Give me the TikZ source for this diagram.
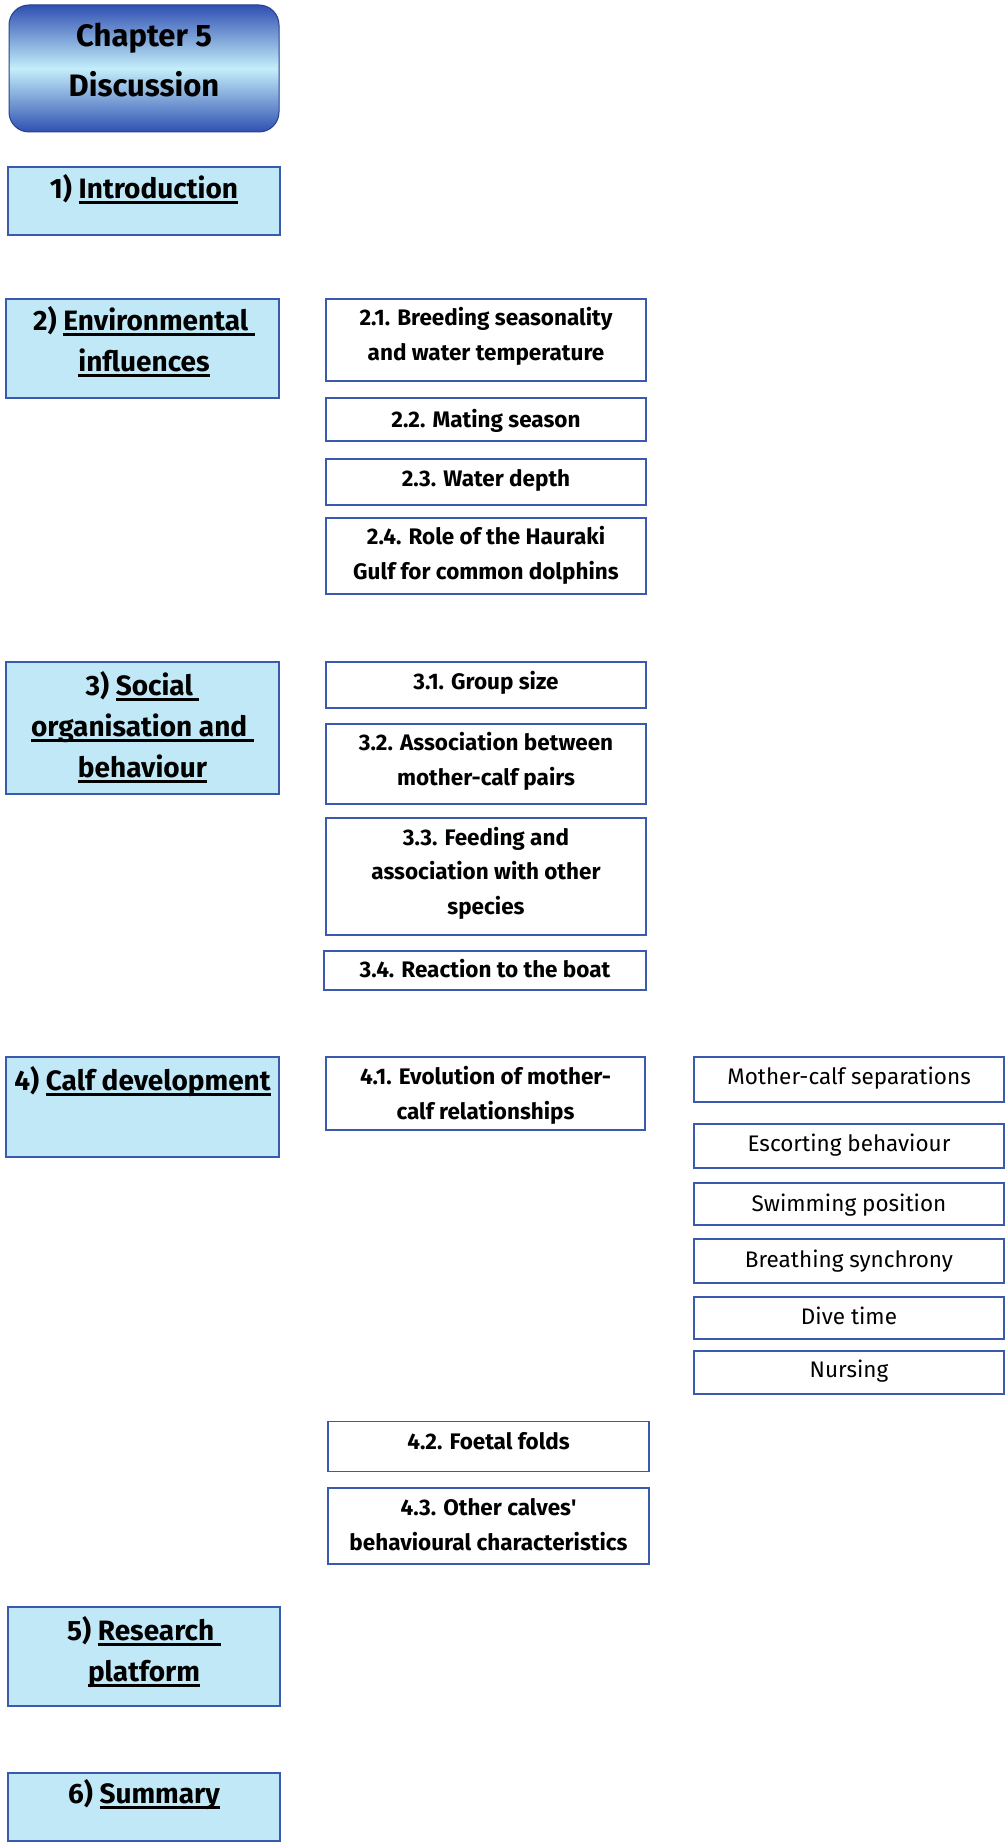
\documentclass[tikz,border=0pt]{standalone}
\usepackage{fontspec}
\setmainfont{Fira Sans}
\definecolor{secfill}{HTML}{C0E8F6}
\definecolor{bordc}{HTML}{3A5AAE}
\definecolor{chapdark}{HTML}{3050B2}
\definecolor{chaplight}{HTML}{C4EEFA}
\newcommand\hdul[1]{\setbox0\hbox{#1}\rlap{\rule[-0.2em]{\wd0}{0.08em}}\box0}
\tikzset{
  x=1pt, y=-1pt,
  chapbox/.style={draw=chapdark!80!black, line width=1pt, rounded corners=20pt,
    top color=chapdark, bottom color=chapdark, middle color=chaplight, inner sep=0pt},
  secbox/.style={draw=bordc, line width=2pt, fill=secfill, inner sep=0pt},
  subbox/.style={draw=bordc, line width=1.8pt, fill=white, inner sep=0pt},
  itembox/.style={draw=bordc, line width=1.5pt, fill=white, inner sep=0pt},
  chaptxt/.style={font=\fontsize{31}{50}\selectfont\bfseries, align=center, inner sep=0pt, anchor=base},
  sectxt/.style={font=\fontsize{28}{41}\selectfont\bfseries, align=center, inner sep=0pt, anchor=base},
  subtxt/.style={font=\fontsize{22.5}{34.5}\selectfont\bfseries, align=center, inner sep=0pt, anchor=base},
  itemtxt/.style={font=\fontsize{22.5}{35}\selectfont, align=center, inner sep=0pt, anchor=base},
}
\begin{document}
\begin{tikzpicture}
\useasboundingbox[fill=white] (0,0) rectangle (1006,1846);
% chapter
\node[chapbox, minimum width=270pt, minimum height=127pt] (chap) at (144,68.5) {};
\node[chaptxt] (chapt) at (144,97) {Chapter 5\\Discussion};
% sections
\node[secbox, minimum width=272pt, minimum height=68pt] (intro) at (144,201) {};
\node[sectxt] (introt) at (144,198) {1) \hdul{Introduction}};
\node[secbox, minimum width=273pt, minimum height=99pt] (env) at (142.5,348.5) {};
\node[sectxt] (envt) at (144,371) {2) \hdul{Environmental\ }\\\hdul{influences}};
\node[secbox, minimum width=273pt, minimum height=132pt] (soc) at (142.5,728) {};
\node[sectxt] (soct) at (142.5,777) {3) \hdul{Social\ }\\\hdul{organisation and\ }\\\hdul{behaviour}};
\node[secbox, minimum width=273pt, minimum height=100pt] (calf) at (142.5,1107) {};
\node[sectxt] (calft) at (142.5,1090) {4) \hdul{Calf development}};
\node[secbox, minimum width=272pt, minimum height=99pt] (res) at (144,1656.5) {};
\node[sectxt] (rest) at (144,1681) {5) \hdul{Research\ }\\\hdul{platform}};
\node[secbox, minimum width=272pt, minimum height=68pt] (summ) at (144,1807) {};
\node[sectxt] (summt) at (144,1803) {6) \hdul{Summary}};
% subsections 2
\node[subbox, minimum width=320pt, minimum height=82pt] (s21) at (486,340) {};
\node[subtxt] (s21t) at (486,360) {2.1. Breeding seasonality\\and water temperature};
\node[subbox, minimum width=320pt, minimum height=43pt] (s22) at (486,419.5) {};
\node[subtxt] (s22t) at (486,427) {2.2. Mating season};
\node[subbox, minimum width=320pt, minimum height=46pt] (s23) at (486,482) {};
\node[subtxt] (s23t) at (486,486) {2.3. Water depth};
\node[subbox, minimum width=320pt, minimum height=76pt] (s24) at (486,556) {};
\node[subtxt] (s24t) at (486,579) {2.4. Role of the Hauraki\\Gulf for common dolphins};
% subsections 3
\node[subbox, minimum width=320pt, minimum height=46pt] (s31) at (486,685) {};
\node[subtxt] (s31t) at (486,689) {3.1. Group size};
\node[subbox, minimum width=320pt, minimum height=80pt] (s32) at (486,764) {};
\node[subtxt] (s32t) at (486,785) {3.2. Association between\\mother-calf pairs};
\node[subbox, minimum width=320pt, minimum height=117pt] (s33) at (486,876.5) {};
\node[subtxt] (s33t) at (486,914) {3.3. Feeding and\\association with other\\species};
\node[subbox, minimum width=322pt, minimum height=39pt] (s34) at (485,970.5) {};
\node[subtxt] (s34t) at (485,977) {3.4. Reaction to the boat};
% subsections 4
\node[subbox, minimum width=319pt, minimum height=73pt] (s41) at (485.5,1093.5) {};
\node[subtxt] (s41t) at (485.5,1119) {4.1. Evolution of mother-\\calf relationships};
\node[subbox, minimum width=321pt, minimum height=50pt] (s42) at (488.5,1446.5) {};
\node[subtxt] (s42t) at (488.5,1449) {4.2. Foetal folds};
\node[subbox, minimum width=321pt, minimum height=76pt] (s43) at (488.5,1526) {};
\node[subtxt] (s43t) at (488.5,1550) {4.3. Other calves\textquotesingle\\behavioural characteristics};
% items
\node[itembox, minimum width=310pt, minimum height=45pt] (r1) at (849,1079.5) {};
\node[itemtxt] (r1t) at (849,1084) {Mother-calf separations};
\node[itembox, minimum width=310pt, minimum height=44pt] (r2) at (849,1146) {};
\node[itemtxt] (r2t) at (849,1151) {Escorting behaviour};
\node[itembox, minimum width=310pt, minimum height=42pt] (r3) at (849,1204) {};
\node[itemtxt] (r3t) at (849,1211) {Swimming position};
\node[itembox, minimum width=310pt, minimum height=44pt] (r4) at (849,1261) {};
\node[itemtxt] (r4t) at (849,1267) {Breathing synchrony};
\node[itembox, minimum width=310pt, minimum height=42pt] (r5) at (849,1318) {};
\node[itemtxt] (r5t) at (849,1324) {Dive time};
\node[itembox, minimum width=310pt, minimum height=43pt] (r6) at (849,1372.5) {};
\node[itemtxt] (r6t) at (849,1377) {Nursing};
\end{tikzpicture}
\end{document}
